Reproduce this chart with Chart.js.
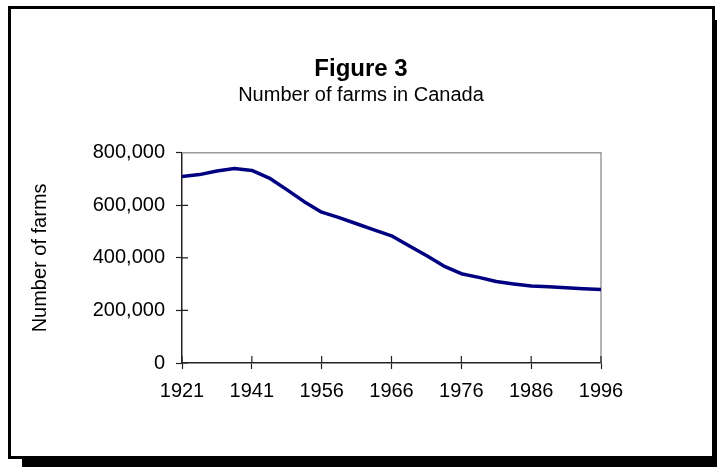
<!DOCTYPE html>
<html>
<head>
<meta charset="utf-8">
<title>Number of farms in Canada</title>
<script src="https://cdn.jsdelivr.net/npm/chart.js@4.4.1/dist/chart.umd.min.js"></script>
<style>
  html, body { margin: 0; padding: 0; background: #fff; }
  body { width: 717px; height: 467px; position: relative; overflow: hidden; }
  .frame {
    position: absolute; left: 8px; top: 6px; width: 707px; height: 453px;
    box-sizing: border-box; border: 3px solid #000; background: #fff;
    box-shadow: 14px 14px 0 #000;
  }
  #chart { position: absolute; left: 0; top: 0; }
</style>
</head>
<body>
<div class="frame"></div>
<canvas id="chart" width="717" height="467"></canvas>
<script>
// labelled years on the x axis, one every few data points
const yearLabels = ['1921', '1941', '1956', '1966', '1976', '1986', '1996'];
const pointsPerLabel = 4;

// number of farms at each point along the axis
const farms = [
  710000, 717000, 731000, 740000, 733000, 704000, 660000, 614000,
  574000, 553000, 530000, 507000, 484000, 446000, 409000, 369000,
  340000, 326000, 310000, 301000, 293000, 290000, 286000, 283000,
  280000,
];

const yMax = 800000;
const yStep = 200000;

const FONT = '"Liberation Sans", Arial, sans-serif';
const AXIS = '#222';

// grey top/right edge of the plot and the inner half of the tick marks
const plotFrame = {
  id: 'plotFrame',
  beforeDatasetsDraw(chart) {
    const { ctx, chartArea: a, scales } = chart;
    ctx.save();
    ctx.strokeStyle = '#9a9a9a';
    ctx.lineWidth = 1.5;
    ctx.beginPath();
    ctx.moveTo(a.left, a.top);
    ctx.lineTo(a.right, a.top);
    ctx.lineTo(a.right, a.bottom);
    ctx.stroke();

    ctx.strokeStyle = AXIS;
    ctx.lineWidth = 1.2;
    ctx.beginPath();
    scales.y.ticks.forEach(t => {
      const y = scales.y.getPixelForValue(t.value);
      if (y <= a.top + 1) return;
      ctx.moveTo(a.left, y);
      ctx.lineTo(a.left + 6, y);
    });
    scales.x.ticks.forEach(t => {
      const x = scales.x.getPixelForValue(t.value);
      ctx.moveTo(x, a.bottom);
      ctx.lineTo(x, a.bottom - 7);
    });
    ctx.stroke();
    ctx.restore();
  },
};

new Chart(document.getElementById('chart'), {
  type: 'line',
  data: {
    datasets: [{
      label: 'Number of farms',
      data: farms.map((v, i) => ({ x: i, y: v })),
      borderColor: '#000080',
      borderWidth: 3.5,
      borderJoinStyle: 'round',
      borderCapStyle: 'butt',
      pointRadius: 0,
      tension: 0,
      fill: false,
    }],
  },
  options: {
    responsive: false,
    animation: false,
    devicePixelRatio: 1,
    locale: 'en-US',
    layout: { padding: { left: 5, right: 0, top: 0, bottom: 0 } },
    plugins: {
      legend: { display: false },
      tooltip: { enabled: false },
      title: {
        display: true,
        text: 'Figure 3',
        color: '#000',
        font: { family: FONT, size: 24, weight: 'bold' },
        padding: { top: 55, bottom: 0 },
      },
      subtitle: {
        display: true,
        text: 'Number of farms in Canada',
        color: '#000',
        font: { family: FONT, size: 20 },
        padding: { top: 0, bottom: 45 },
      },
    },
    scales: {
      x: {
        type: 'linear',
        min: 0,
        max: farms.length - 1,
        afterFit: s => { s.height = 104; },
        border: { color: AXIS, width: 1.5 },
        grid: { drawOnChartArea: false, tickLength: 6, tickColor: AXIS, tickWidth: 1.2 },
        ticks: {
          stepSize: pointsPerLabel,
          autoSkip: false,
          maxRotation: 0,
          padding: 10,
          color: '#000',
          font: { family: FONT, size: 20 },
          callback: v => yearLabels[v / pointsPerLabel],
        },
      },
      y: {
        min: 0,
        max: yMax,
        afterFit: s => { s.width = 177; },
        border: { color: AXIS, width: 1.5 },
        grid: { drawOnChartArea: false, tickLength: 6, tickColor: AXIS, tickWidth: 1.2 },
        ticks: {
          stepSize: yStep,
          padding: 11,
          color: '#000',
          font: { family: FONT, size: 20 },
          callback: v => v.toLocaleString('en-US'),
        },
        title: {
          display: true,
          text: 'Number of farms',
          color: '#000',
          font: { family: FONT, size: 20 },
          padding: { top: 23, bottom: 0 },
        },
      },
      // empty right-hand margin so the plot stops short of the frame
      margin: {
        type: 'linear',
        position: 'right',
        afterFit: s => { s.width = 116; },
        border: { display: false },
        grid: { display: false },
        ticks: { display: false },
      },
    },
  },
  plugins: [plotFrame],
});
</script>
</body>
</html>
